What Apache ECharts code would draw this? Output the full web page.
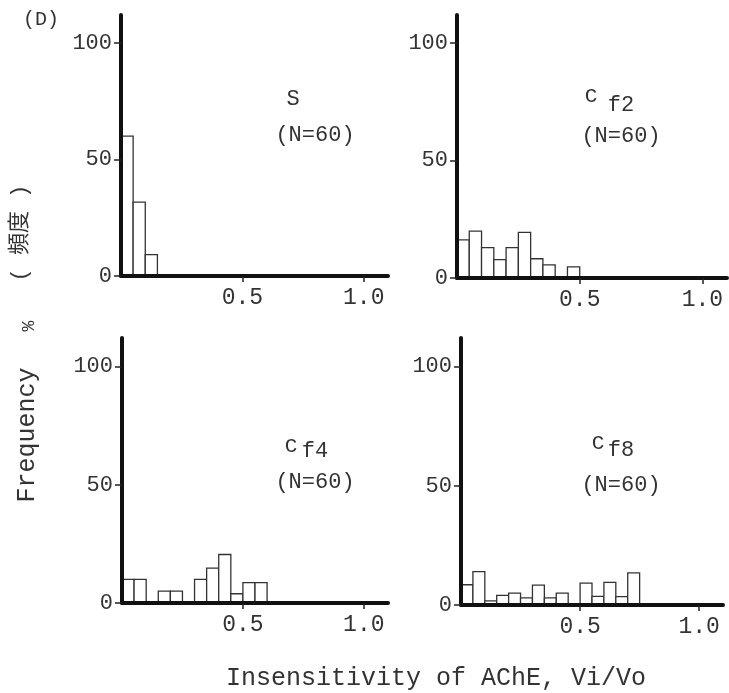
<!DOCTYPE html>
<html>
<head>
<meta charset="utf-8">
<script src="https://cdn.jsdelivr.net/npm/echarts@6/dist/echarts.min.js"></script>
<style>
  html, body { margin: 0; padding: 0; background: #fff; }
  #main { width: 729px; height: 693px; }
</style>
</head>
<body>
<div id="main"></div>
<script>
// histogram bins, width 0.05 (Vi/Vo)
var binWidth = 0.05;
var binsS = [0, 0.05, 0.10];
var freqS = [60, 31.7, 9.2];
var binsCf2 = [0, 0.05, 0.10, 0.15, 0.20, 0.25, 0.30, 0.35, 0.40, 0.45];
var freqCf2 = [16.2, 20, 12.9, 7.8, 12.9, 19.4, 8.2, 5.6, 0, 4.7];
var binsCf4 = [0, 0.05, 0.10, 0.15, 0.20, 0.25, 0.30, 0.35, 0.40, 0.45, 0.50, 0.55];
var freqCf4 = [10, 10, 0, 5, 5, 0, 10, 14.7, 20.5, 3.9, 8.6, 8.6];
var binsCf8 = [0, 0.05, 0.10, 0.15, 0.20, 0.25, 0.30, 0.35, 0.40, 0.45, 0.50, 0.55, 0.60, 0.65, 0.70];
var freqCf8 = [8.5, 14, 1.7, 4, 5, 3, 8.3, 3, 5, 0, 9.2, 3.6, 9.5, 3.5, 13.5];

var yTicks = [0, 50, 100];
var xTicks = [0.5, 1.0];

var mono = "'Liberation Mono', 'DejaVu Sans Mono', monospace";
var ink = '#333';

// grid boxes for the four panels
var grids = [
  {left: 121, top: 15, width: 267, height: 261},
  {left: 457, top: 15, width: 270, height: 263},
  {left: 122, top: 338, width: 266, height: 265},
  {left: 461, top: 338, width: 262, height: 267}
];
var panels = [
  {bins: binsS, freq: freqS},
  {bins: binsCf2, freq: freqCf2},
  {bins: binsCf4, freq: freqCf4},
  {bins: binsCf8, freq: freqCf8}
];

var xAxes = [], yAxes = [], series = [];
panels.forEach(function (p, i) {
  xAxes.push({
    type: 'value', gridIndex: i, min: 0, max: 1.1, z: 5,
    axisLine: {show: true, onZero: false, lineStyle: {color: '#111', width: 4}},
    axisTick: {show: true, customValues: xTicks, length: 6, lineStyle: {color: '#222', width: 1.5}},
    axisLabel: {customValues: xTicks, margin: 10, fontSize: 23, fontFamily: mono, color: ink,
      formatter: function (v) { return v.toFixed(1); }},
    splitLine: {show: false}
  });
  yAxes.push({
    type: 'value', gridIndex: i, min: 0, max: 112, z: 5,
    axisLine: {show: true, lineStyle: {color: '#111', width: 4}},
    axisTick: {show: true, customValues: yTicks, length: 7, lineStyle: {color: '#222', width: 1.5}},
    axisLabel: {customValues: yTicks, margin: 9, fontSize: 22, fontFamily: mono, color: ink},
    splitLine: {show: false}
  });
  series.push({
    type: 'custom', xAxisIndex: i, yAxisIndex: i,
    data: p.bins.map(function (b, j) { return [b, p.freq[j]]; }),
    renderItem: function (params, api) {
      var x0 = api.value(0), h = api.value(1);
      if (!h) return;
      var a = api.coord([x0, h]);
      var b = api.coord([x0 + binWidth, 0]);
      return {
        type: 'rect',
        shape: {x: a[0], y: a[1], width: b[0] - a[0], height: b[1] - a[1]},
        style: {fill: '#fff', stroke: '#333', lineWidth: 1.3}
      };
    }
  });
});

function txt(x, y, s, size, rot, family) {
  return {
    type: 'text', x: x, y: y, rotation: rot || 0, z: 10,
    style: {text: s, font: size + 'px ' + (family || mono), fill: ink,
      textAlign: 'center', textVerticalAlign: 'middle'}
  };
}

var cjk = "'Noto Sans CJK JP', 'Noto Sans CJK SC', sans-serif";
var graphics = [
  txt(41, 20, '(D)', 20),
  txt(20, 233, '( 頻度 )', 22, Math.PI / 2, "'Liberation Mono', " + cjk),
  txt(29, 326, '%', 18, Math.PI / 2),
  txt(27, 435, 'Frequency', 25, Math.PI / 2),
  txt(436, 678, 'Insensitivity of AChE, Vi/Vo', 25),
  // panel labels
  txt(293, 99, 'S', 22),
  txt(315, 135, '(N=60)', 22),
  txt(591, 96, 'C', 21), txt(621, 105, 'f2', 22),
  txt(621, 136, '(N=60)', 22),
  txt(291, 446, 'C', 21), txt(315, 451, 'f4', 22),
  txt(315, 482, '(N=60)', 22),
  txt(598, 443, 'C', 21), txt(621, 450, 'f8', 22),
  txt(621, 485, '(N=60)', 22)
];

var myChart = echarts.init(document.getElementById('main'));
var option = {
  backgroundColor: '#fff',
  animation: false,
  grid: grids,
  xAxis: xAxes,
  yAxis: yAxes,
  series: series,
  graphic: graphics
};
myChart.setOption(option);
</script>
</body>
</html>
